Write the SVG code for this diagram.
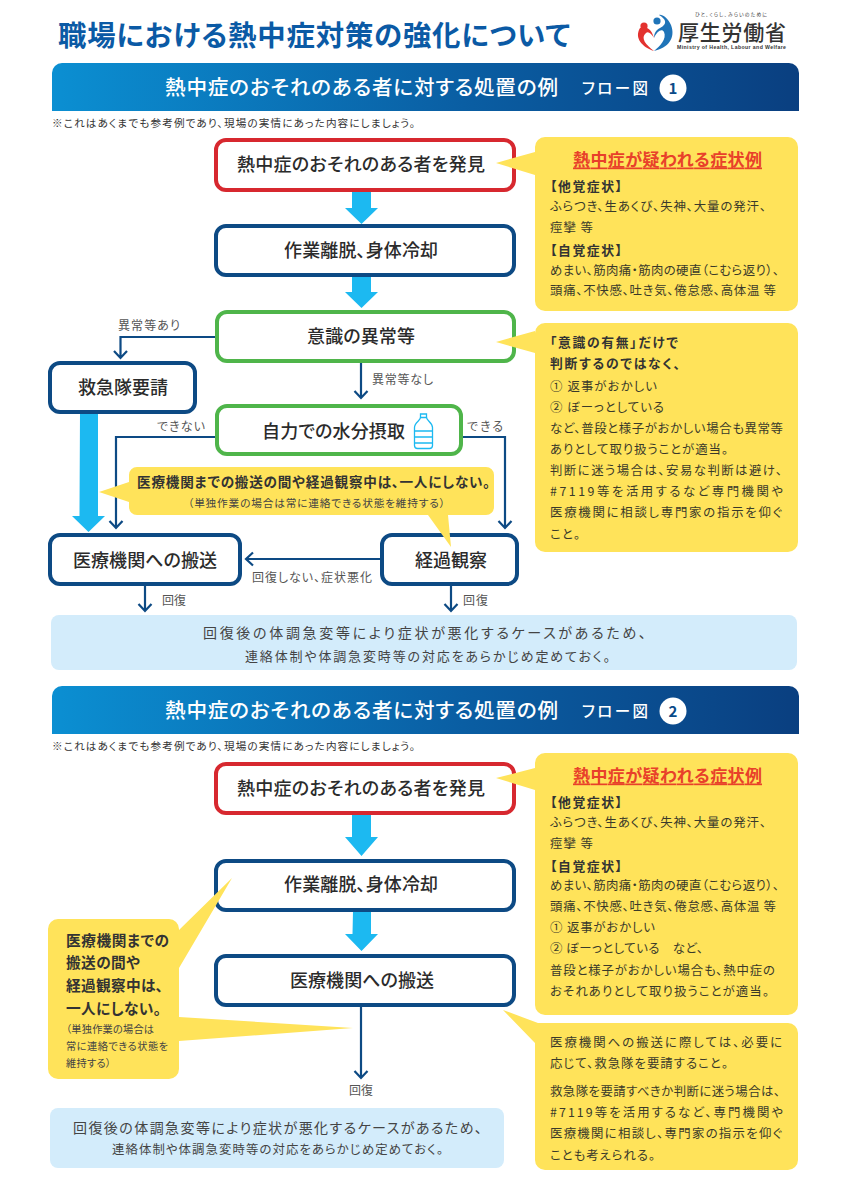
<svg xmlns="http://www.w3.org/2000/svg" width="857" height="1200" viewBox="0 0 857 1200">
<defs>
<linearGradient id="hdr" x1="0" y1="0" x2="1" y2="0"><stop offset="0" stop-color="#0b8fd2"/><stop offset="0.55" stop-color="#0a5ea3"/><stop offset="1" stop-color="#0a3f80"/></linearGradient>
</defs>
<style>
text{font-family:"Noto Sans CJK JP","Noto Sans",sans-serif;dominant-baseline:central;fill:#333;font-feature-settings:"palt";transform:translateY(-1px)}
.box{fill:#fff;stroke:#0d4a84;stroke-width:4}
.red{stroke:#d7282f}.grn{stroke:#4fb54a}
.lbl{font-size:18px;font-weight:500;fill:#2b2b2b;text-anchor:middle}
.yel{fill:#ffe35a}
.pale{fill:#d3ecfb}
.con{fill:none;stroke:#0d4a84;stroke-width:2.2}
.big{fill:#1cb9f1}
.sm{font-size:12px;fill:#555}
.p{font-size:12.4px;fill:#3a3a2a}
.b{font-size:12.8px;font-weight:700;fill:#333}
.hd{font-size:20.6px;font-weight:500;fill:#fff}
.fl{font-size:15.5px;font-weight:500;fill:#fff}
.note{font-size:10.6px;fill:#333}
.pt{font-size:14px;fill:#444}
.ttl{font-size:17px;font-weight:700;fill:#e8412a;text-decoration:underline}
</style>
<rect width="857" height="1200" fill="#fff"/>
<g id="page-title"><text x="58" y="34" style="font-size:28.4px;font-weight:700;fill:#0b5aa5" textLength="512">職場における熱中症対策の強化について</text></g>
<g id="logo">
<circle cx="644" cy="26" r="3.6" fill="#e3322f"/><circle cx="657" cy="21" r="3.6" fill="#1f74b8"/>
<path d="M640 28 C634 38 642 47 654 51 C646 45 640 38 646 33 C648 31 651 33 654 38 C652 31 648 25 640 28Z" fill="#e3322f"/>
<path d="M654 38 C657 31 662 28 664 32 C667 39 660 46 654 51 C668 48 676 38 671 25 C668 18 662 14 659 15 C666 19 668 24 660 28 C656 30 654 33 654 38Z" fill="#1f74b8"/>
<text x="695" y="14" style="font-size:4.8px;fill:#333" textLength="72">ひと、くらし、みらいのために</text>
<text x="678" y="32" style="font-size:21px;font-weight:500;fill:#333" textLength="108">厚生労働省</text>
<text x="677" y="48" style="font-size:5.2px;font-weight:700;fill:#333;font-family:'Liberation Sans',sans-serif" textLength="109">Ministry of Health, Labour and Welfare</text>
</g>
<g id="section1-header">
<path d="M52 111V73a10 10 0 0 1 10-10H789a10 10 0 0 1 10 10V111Z" fill="url(#hdr)"/>
<text class="hd" x="165" y="87" textLength="393">熱中症のおそれのある者に対する処置の例</text>
<text class="fl" x="582" y="88" textLength="66">フロー図</text>
<circle cx="673" cy="88" r="13.5" fill="#fff"/><text x="673" y="88" text-anchor="middle" style="font-size:15px;font-weight:700;fill:#0a4a88">1</text>
<text class="note" x="52" y="123" textLength="363">※これはあくまでも参考例であり、現場の実情にあった内容にしましょう。</text>
</g>
<g id="connectors1">
<path class="big" d="M352 190h19v18h7l-16.5 16-16.5-16h7Z"/>
<path class="big" d="M352 277h19v15h7l-16.5 16-16.5-16h7Z"/>
<path class="big" d="M80 413h18v103h7l-16.5 16-16.5-16h7.5Z"/>
<path class="con" d="M215 337H120.5V358M114 351l6.5 7 6.5-7"/>
<path class="con" d="M361 362V398M354.5 391l6.5 7 6.5-7"/>
<path class="con" d="M215 437H116V528M109.5 521l6.5 7 6.5-7"/>
<path class="con" d="M462 437H505V528M498.5 521l6.5 7 6.5-7"/>
<path class="con" d="M381 559H246M253 552.5l-7 6.5 7 6.5"/>
<path class="con" d="M145 585V611M138.5 604l6.5 7 6.5-7"/>
<path class="con" d="M451 585V611M444.5 604l6.5 7 6.5-7"/>
</g>
<g id="n1-find"><rect class="box red" x="216" y="140" width="298" height="50" rx="10"/><text class="lbl" x="361" y="164" textLength="248">熱中症のおそれのある者を発見</text></g>
<g id="n1-cool"><rect class="box" x="216" y="226" width="298" height="49" rx="10"/><text class="lbl" x="361" y="250" textLength="154">作業離脱、身体冷却</text></g>
<g id="n1-conscious"><rect class="box grn" x="217" y="312" width="297" height="49" rx="10"/><text class="lbl" x="361" y="336" textLength="108">意識の異常等</text></g>
<g id="n1-ambulance"><rect class="box" x="50" y="363" width="145" height="49" rx="10"/><text class="lbl" x="123" y="387" textLength="90">救急隊要請</text></g>
<g id="n1-water"><rect class="box grn" x="217" y="406" width="244" height="48" rx="10"/><text class="lbl" x="333.5" y="431" textLength="143">自力での水分摂取</text>
<g fill="none" stroke="#1cb9f1" stroke-width="1.3"><path d="M420.5 414h6v3.500h-6Z"/><path d="M420.5 417.5c0 3-6 5-6 10v18a3 3 0 0 0 3 3h12a3 3 0 0 0 3-3v-18c0-5-6-7-6-10"/><path d="M414.5 431h18M414.5 437h18M414.5 443h18"/></g></g>
<g id="n1-hospital"><rect class="box" x="50" y="535" width="190" height="49" rx="10"/><text class="lbl" x="145" y="560" textLength="144">医療機関への搬送</text></g>
<g id="n1-observe"><rect class="box" x="382" y="535" width="135" height="49" rx="10"/><text class="lbl" x="451" y="560" textLength="72">経過観察</text></g>
<g id="labels1">
<text class="sm" x="118" y="325" textLength="62">異常等あり</text>
<text class="sm" x="372" y="379" textLength="61">異常等なし</text>
<text class="sm" x="157" y="426" textLength="48">できない</text>
<text class="sm" x="467" y="426" textLength="36">できる</text>
<text class="sm" x="252" y="577" textLength="120">回復しない、症状悪化</text>
<text class="sm" x="162" y="600" textLength="24">回復</text>
<text class="sm" x="463" y="600" textLength="25">回復</text>
</g>
<g id="n1-callout-watch">
<path class="yel" d="M137 467H486a8 8 0 0 1 8 8V507a8 8 0 0 1-8 8H448L451 547 428 515H137a8 8 0 0 1-8-8V502L99 492 129 482V475a8 8 0 0 1 8-8Z"/>
<text x="137" y="482" style="font-size:13.6px;font-weight:700;fill:#333" textLength="353">医療機関までの搬送の間や経過観察中は、一人にしない。</text>
<text x="188" y="503" style="font-size:10.7px;fill:#444" textLength="257">（単独作業の場合は常に連絡できる状態を維持する）</text>
</g>
<g id="n1-recovery-note"><rect class="pale" x="51" y="615" width="746" height="55" rx="8"/>
<text class="pt" x="203" y="633" textLength="443">回復後の体調急変等により症状が悪化するケースがあるため、</text>
<text class="pt" x="245" y="656" style="font-size:13px" textLength="365">連絡体制や体調急変時等の対応をあらかじめ定めておく。</text></g>
<g id="n1-panel-symptoms">
<path class="yel" d="M545 137H788a10 10 0 0 1 10 10V301a10 10 0 0 1-10 10H545a10 10 0 0 1-10-10V175L496 163 535 152V147a10 10 0 0 1 10-10Z"/>
<text class="ttl" x="573" y="159" textLength="189">熱中症が疑われる症状例</text>
<text class="b" x="550" y="186" textLength="72">【他覚症状】</text>
<text class="p" x="550" y="207" textLength="216">ふらつき、生あくび、失神、大量の発汗、</text>
<text class="p" x="550" y="228" textLength="43">痙攣 等</text>
<text class="b" x="550" y="250" textLength="72">【自覚症状】</text>
<text class="p" x="550" y="271" textLength="229">めまい、筋肉痛・筋肉の硬直（こむら返り）、</text>
<text class="p" x="550" y="291" textLength="226">頭痛、不快感、吐き気、倦怠感、高体温 等</text>
</g>
<g id="n1-panel-conscious">
<path class="yel" d="M545 323H788a10 10 0 0 1 10 10V542a10 10 0 0 1-10 10H545a10 10 0 0 1-10-10V353L496 342 535 331V333a10 10 0 0 1 10-10Z"/>
<text class="b" x="550" y="342" textLength="128">「意識の有無」だけで</text>
<text class="b" x="550" y="363" textLength="130">判断するのではなく、</text>
<text class="p" x="550" y="387" textLength="107">① 返事がおかしい</text>
<text class="p" x="550" y="408" textLength="114">② ぼーっとしている</text>
<text class="p" x="550" y="429" textLength="233">など、普段と様子がおかしい場合も異常等</text>
<text class="p" x="550" y="450" textLength="178">ありとして取り扱うことが適当。</text>
<text class="p" x="550" y="471" textLength="232">判断に迷う場合は、安易な判断は避け、</text>
<text class="p" x="550" y="492" textLength="233">#7119等を活用するなど専門機関や</text>
<text class="p" x="550" y="513" textLength="232">医療機関に相談し専門家の指示を仰ぐ</text>
<text class="p" x="550" y="535" textLength="30">こと。</text>
</g>
<g id="section2-header">
<path d="M52 734V696a10 10 0 0 1 10-10H789a10 10 0 0 1 10 10V734Z" fill="url(#hdr)"/>
<text class="hd" x="165" y="710" textLength="393">熱中症のおそれのある者に対する処置の例</text>
<text class="fl" x="582" y="711" textLength="66">フロー図</text>
<circle cx="673" cy="711" r="13.5" fill="#fff"/><text x="673" y="711" text-anchor="middle" style="font-size:15px;font-weight:700;fill:#0a4a88">2</text>
<text class="note" x="52" y="746" textLength="363">※これはあくまでも参考例であり、現場の実情にあった内容にしましょう。</text>
</g>
<g id="connectors2">
<path class="big" d="M352 815h19v22h7l-16.5 19-16.5-19h7Z"/>
<path class="big" d="M353 911h18v23h7l-16.5 17-16.5-17h7.5Z"/>
<path class="con" d="M361 1006V1078M354.5 1071l6.5 7 6.5-7"/>
</g>
<g id="n2-find"><rect class="box red" x="216" y="764" width="298" height="49" rx="10"/><text class="lbl" x="361" y="788" textLength="248">熱中症のおそれのある者を発見</text></g>
<g id="n2-cool"><rect class="box" x="216" y="861" width="298" height="49" rx="10"/><text class="lbl" x="361" y="884" textLength="154">作業離脱、身体冷却</text></g>
<g id="n2-hospital"><rect class="box" x="216" y="956" width="298" height="49" rx="10"/><text class="lbl" x="362" y="980" textLength="144">医療機関への搬送</text></g>
<text class="sm" x="349" y="1090" textLength="24">回復</text>
<g id="n2-callout-watch">
<path class="yel" d="M58 919H169a10 10 0 0 1 10 10V930L232 878 179 968V1017L353 1028 179 1041V1069a10 10 0 0 1-10 10H58a10 10 0 0 1-10-10V929a10 10 0 0 1 10-10Z"/>
<text x="66" y="940" style="font-size:14.7px;font-weight:700;fill:#333" textLength="103">医療機関までの</text>
<text x="66" y="962" style="font-size:14.7px;font-weight:700;fill:#333" textLength="74">搬送の間や</text>
<text x="66" y="985" style="font-size:14.7px;font-weight:700;fill:#333" textLength="97">経過観察中は、</text>
<text x="66" y="1008" style="font-size:14.7px;font-weight:700;fill:#333" textLength="95">一人にしない。</text>
<text x="66" y="1029" style="font-size:10.2px;fill:#444" textLength="88">（単独作業の場合は</text>
<text x="66" y="1046" style="font-size:10.2px;fill:#444" textLength="102">常に連絡できる状態を</text>
<text x="66" y="1063" style="font-size:10.2px;fill:#444" textLength="45">維持する）</text>
</g>
<g id="n2-recovery-note"><rect class="pale" x="50" y="1108" width="454" height="60" rx="8"/>
<text class="pt" x="73" y="1128" textLength="409">回復後の体調急変等により症状が悪化するケースがあるため、</text>
<text class="pt" x="112" y="1150" style="font-size:12.4px" textLength="331">連絡体制や体調急変時等の対応をあらかじめ定めておく。</text></g>
<g id="n2-panel-symptoms">
<path class="yel" d="M545 753H788a10 10 0 0 1 10 10V1005a10 10 0 0 1-10 10H545a10 10 0 0 1-10-10V790L496 778 535 768V763a10 10 0 0 1 10-10Z"/>
<text class="ttl" x="573" y="775" textLength="189">熱中症が疑われる症状例</text>
<text class="b" x="550" y="802" textLength="72">【他覚症状】</text>
<text class="p" x="550" y="823" textLength="216">ふらつき、生あくび、失神、大量の発汗、</text>
<text class="p" x="550" y="844" textLength="43">痙攣 等</text>
<text class="b" x="550" y="866" textLength="72">【自覚症状】</text>
<text class="p" x="550" y="886" textLength="229">めまい、筋肉痛・筋肉の硬直（こむら返り）、</text>
<text class="p" x="550" y="907" textLength="226">頭痛、不快感、吐き気、倦怠感、高体温 等</text>
<text class="p" x="550" y="928" textLength="105">① 返事がおかしい</text>
<text class="p" x="550" y="949" textLength="153">② ぼーっとしている　など、</text>
<text class="p" x="550" y="971" textLength="225">普段と様子がおかしい場合も、熱中症の</text>
<text class="p" x="550" y="992" textLength="219">おそれありとして取り扱うことが適当。</text>
</g>
<g id="n2-panel-transport">
<path class="yel" d="M545 1023H788a10 10 0 0 1 10 10V1160a10 10 0 0 1-10 10H545a10 10 0 0 1-10-10V1043L503 1010 538 1023Z"/>
<text class="p" x="550" y="1043" textLength="232">医療機関への搬送に際しては、必要に</text>
<text class="p" x="550" y="1064" textLength="178">応じて、救急隊を要請すること。</text>
<text class="p" x="550" y="1092" textLength="230">救急隊を要請すべきか判断に迷う場合は、</text>
<text class="p" x="550" y="1113" textLength="233">#7119等を活用するなど、専門機関や</text>
<text class="p" x="550" y="1134" textLength="232">医療機関に相談し、専門家の指示を仰ぐ</text>
<text class="p" x="550" y="1156" textLength="105">ことも考えられる。</text>
</g>
</svg>
